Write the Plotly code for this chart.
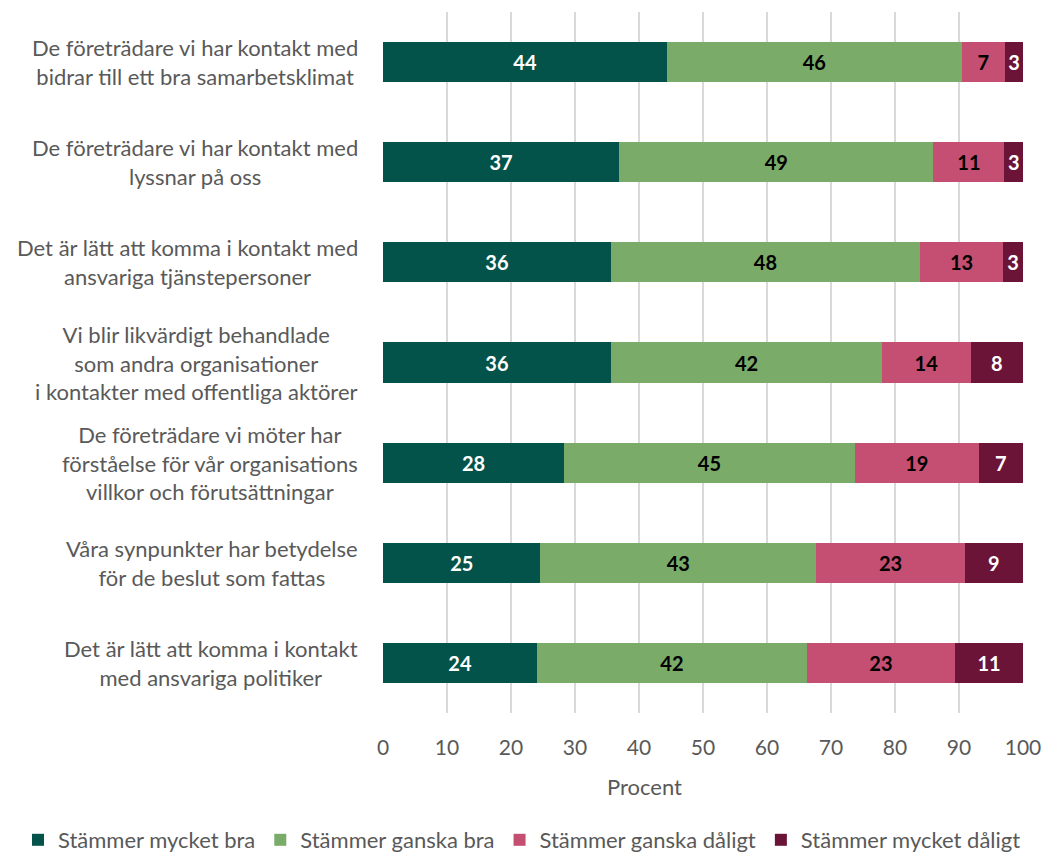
import plotly.graph_objects as go

categories = [
    "De företrädare vi har kontakt med<br>bidrar till ett bra samarbetsklimat",
    "De företrädare vi har kontakt med<br>lyssnar på oss",
    "Det är lätt att komma i kontakt med<br>ansvariga tjänstepersoner",
    "Vi blir likvärdigt behandlade<br>som andra organisationer<br>i kontakter med offentliga aktörer",
    "De företrädare vi möter har<br>förståelse för vår organisations<br>villkor och förutsättningar",
    "Våra synpunkter har betydelse<br>för de beslut som fattas",
    "Det är lätt att komma i kontakt<br>med ansvariga politiker",
]

series_names = ["Stämmer mycket bra", "Stämmer ganska bra", "Stämmer ganska dåligt", "Stämmer mycket dåligt"]
mycket_bra = [44.4, 36.9, 35.6, 35.6, 28.3, 24.6, 24.1]
ganska_bra = [46.0, 49.1, 48.3, 42.4, 45.4, 43.1, 42.1]
ganska_daligt = [6.8, 11.1, 13.0, 13.8, 19.4, 23.2, 23.2]
mycket_daligt = [2.8, 2.9, 3.1, 8.2, 6.9, 9.1, 10.6]

colors = ["#03534A", "#7AAB69", "#C44F72", "#6B1438"]
label_colors = ["white", "black", "black", "white"]

FONT = "Lato, 'Open Sans', sans-serif"

keys = list(range(len(categories)))
fig = go.Figure()
for name, vals, col, lc in zip(series_names, [mycket_bra, ganska_bra, ganska_daligt, mycket_daligt], colors, label_colors):
    fig.add_trace(go.Bar(
        y=keys, x=vals, name=name, orientation="h",
        marker=dict(color=col, line=dict(width=0)),
        texttemplate="%{x:.0f}", textposition="inside", insidetextanchor="middle",
        textfont=dict(family=FONT, size=20, color=lc, weight="bold"),
        constraintext="none",
    ))

for i, c in enumerate(categories):
    fig.add_annotation(
        x=-0.036, xref="paper", y=i, yref="y", text=c, showarrow=False,
        xanchor="right", yanchor="middle", align="center",
        font=dict(family=FONT, size=22, color="#595959"),
    )

fig.add_annotation(
    x=0.408, xref="paper", y=(713 - 787) / 701, yref="paper", text="Procent", showarrow=False,
    xanchor="center", yanchor="middle",
    font=dict(family=FONT, size=22, color="#595959"),
)

fig.update_layout(
    barmode="stack", bargap=0.6,
    width=1045, height=852,
    margin=dict(l=383, r=22, t=12, b=139, autoexpand=False),
    plot_bgcolor="white", paper_bgcolor="white",
    showlegend=True,
    legend=dict(orientation="h", xref="paper", x=(18 - 383) / 640, xanchor="left",
                yref="paper", y=(713 - 840) / 701, yanchor="middle",
                font=dict(family=FONT, size=22, color="#595959"), traceorder="normal",
                itemwidth=30, tracegroupgap=0),
    uniformtext=dict(mode=False),
)
fig.update_xaxes(range=[0, 100], dtick=10, showgrid=True, gridcolor="#D9D9D9", gridwidth=2,
                 zeroline=False, showline=False,
                 tickfont=dict(family=FONT, size=21, color="#595959"),
                 ticklabelstandoff=20)
fig.update_yaxes(autorange="reversed", showticklabels=False, showgrid=False, zeroline=False)

fig.write_html("out.html", config={"displayModeBar": False},
               post_script="document.body.style.margin='0';document.body.style.overflow='hidden';")
